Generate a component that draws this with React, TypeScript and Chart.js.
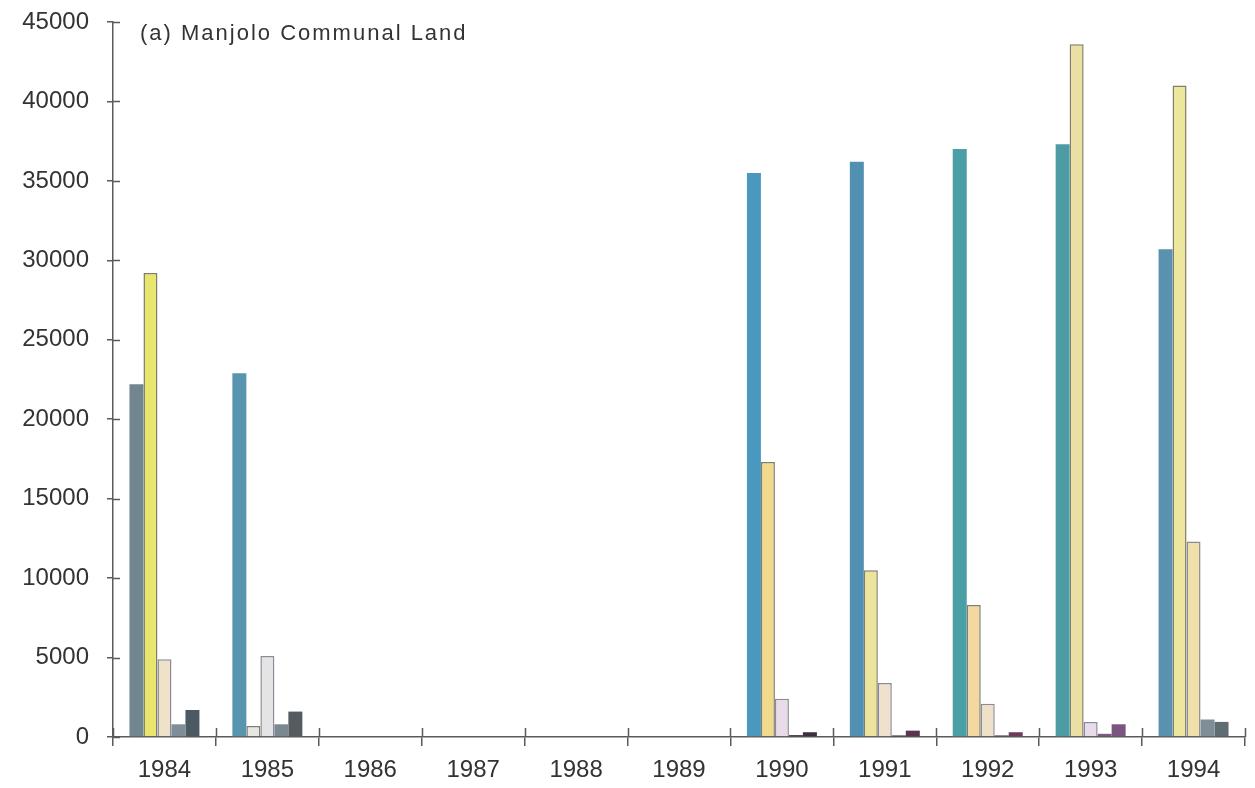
import React, { useEffect, useRef } from "react";
import { Chart, registerables } from "chart.js";

Chart.register(...registerables);

// Years on the category axis
const years = ["1984", "1985", "1986", "1987", "1988", "1989", "1990", "1991", "1992", "1993", "1994"];

// Five series per year, in drawing order inside each group
const seriesA = [22200, 22900, 0, 0, 0, 0, 35500, 36200, 37000, 37300, 30700];
const seriesB = [29200, 700, 0, 0, 0, 0, 17300, 10500, 8300, 43600, 41000];
const seriesC = [4900, 5100, 0, 0, 0, 0, 2400, 3400, 2100, 950, 12300];
const seriesD = [800, 800, 0, 0, 0, 0, 120, 100, 100, 200, 1100];
const seriesE = [1700, 1600, 0, 0, 0, 0, 300, 400, 300, 800, 950];

const yTicks = [0, 5000, 10000, 15000, 20000, 25000, 30000, 35000, 40000, 45000];

const TITLE = "(a) Manjolo Communal Land";
const AXIS = "#5a5a5a";
const TEXT = "#333333";
const FONT = '"Liberation Sans", Arial, Helvetica, sans-serif';

const fillA = ["#72868f", "#5894ad", "#5a8fb0", "#5a8fb0", "#5a8fb0", "#5a8fb0", "#4a97bf", "#5290b2", "#4a9ea6", "#4d9ca3", "#5a91af"];
const fillB = ["#e9e66e", "#e6e6e2", "#efe39a", "#efe39a", "#efe39a", "#efe39a", "#f2da8c", "#ece49a", "#f3d8a2", "#ebdfa4", "#ece79c"];
const fillC = ["#efe2c8", "#e4e4e4", "#eee8d8", "#eee8d8", "#eee8d8", "#eee8d8", "#eadbe8", "#eee2cc", "#efe0c8", "#e8dceb", "#eee0a8"];
const fillD = ["#7e8d97", "#7c8890", "#6f7a82", "#6f7a82", "#6f7a82", "#6f7a82", "#4a3448", "#4e3a4a", "#5a3b55", "#7a5a80", "#7f8d96"];
const fillE = ["#4b5962", "#545c62", "#4b5962", "#4b5962", "#4b5962", "#4b5962", "#3a3040", "#5a3550", "#6a3d5c", "#7a5580", "#5f6c72"];

const crossTicks = {
  id: "crossTicks",
  afterDatasetsDraw(chart: any) {
    const { ctx, chartArea, scales } = chart;
    ctx.save();
    ctx.strokeStyle = AXIS;
    ctx.lineWidth = 1.5;
    ctx.beginPath();
    yTicks.forEach((v) => {
      const y = Math.round(scales.y.getPixelForValue(v)) + 0.5;
      ctx.moveTo(chartArea.left, y);
      ctx.lineTo(chartArea.left + 7, y);
    });
    for (let i = 0; i <= years.length; i++) {
      const x = Math.round(scales.x.getPixelForValue(i - 0.5)) + 0.5;
      ctx.moveTo(x, chartArea.bottom);
      ctx.lineTo(x, chartArea.bottom - 9);
    }
    ctx.stroke();
    ctx.restore();
  },
  afterDraw(chart: any) {
    const { ctx, chartArea } = chart;
    ctx.save();
    ctx.font = `22px ${FONT}`;
    (ctx as any).letterSpacing = "2px";
    ctx.fillStyle = TEXT;
    ctx.textAlign = "left";
    ctx.textBaseline = "alphabetic";
    ctx.fillText(TITLE, chartArea.left + 27, chartArea.top + 18);
    ctx.restore();
  },
};

export default function App() {
  const ref = useRef<HTMLCanvasElement | null>(null);

  useEffect(() => {
    if (!ref.current) return;
    const common = { categoryPercentage: 0.68, barPercentage: 1.0 };
    const chart = new Chart(ref.current, {
      type: "bar",
      data: {
        labels: years,
        datasets: [
          { label: "A", data: seriesA, backgroundColor: fillA, borderWidth: 0, ...common },
          { label: "B", data: seriesB, backgroundColor: fillB, borderColor: "#7f7d6c", borderWidth: 1.5, ...common },
          { label: "C", data: seriesC, backgroundColor: fillC, borderColor: "#8a8a98", borderWidth: 1.5, ...common },
          { label: "D", data: seriesD, backgroundColor: fillD, borderWidth: 0, ...common },
          { label: "E", data: seriesE, backgroundColor: fillE, borderWidth: 0, ...common },
        ],
      },
      options: {
        responsive: true,
        maintainAspectRatio: false,
        animation: false,
        layout: { padding: { left: 0, right: 10, top: 22, bottom: 0 } },
        plugins: { legend: { display: false }, tooltip: { enabled: false }, title: { display: false } },
        scales: {
          x: {
            offset: true,
            grid: { offset: true, drawOnChartArea: false, drawTicks: true, tickLength: 9, color: AXIS, lineWidth: 1.5 },
            border: { color: AXIS, width: 1.5 },
            ticks: { font: { family: FONT, size: 24 }, color: TEXT, padding: 10, maxRotation: 0 },
            afterFit: (s: any) => {
              s.height = 51;
            },
          },
          y: {
            min: 0,
            max: 45000,
            afterBuildTicks: (s: any) => {
              s.ticks = yTicks.map((v) => ({ value: v }));
            },
            grid: { drawOnChartArea: false, drawTicks: true, tickLength: 6, color: AXIS, lineWidth: 1.5 },
            border: { color: AXIS, width: 1.5 },
            ticks: {
              font: { family: FONT, size: 24 },
              color: TEXT,
              padding: 18,
              callback: (v: any) => String(v),
            },
            afterFit: (s: any) => {
              s.width = 113;
              s.paddingTop = 0;
              s.paddingBottom = 0;
            },
          },
        },
      },
      plugins: [crossTicks],
    });
    return () => chart.destroy();
  }, []);

  return (
    <div style={{ position: "absolute", left: 0, top: 0, width: 1255, height: 788, background: "#ffffff" }}>
      <canvas ref={ref} />
    </div>
  );
}
